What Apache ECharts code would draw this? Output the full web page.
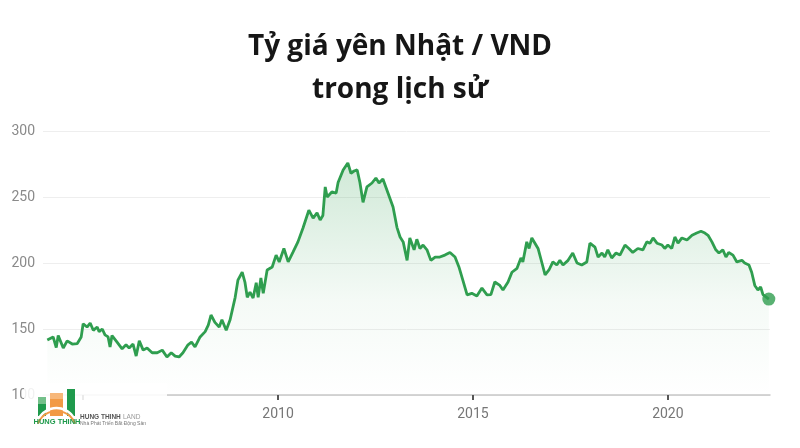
<!DOCTYPE html>
<html>
<head>
<meta charset="utf-8">
<script src="https://cdn.jsdelivr.net/npm/echarts@6/dist/echarts.min.js"></script>
<style>
html,body{margin:0;padding:0;background:#fff;}
#chart{width:800px;height:448px;}
</style>
</head>
<body>
<div id="chart"></div>
<script>
// Time (decimal years) and JPY→VND rate (VND per 1 yen)
const years = [
2004.08,2004.23,2004.31,2004.36,2004.49,2004.59,2004.72,2004.85,2004.95,2005.00,
2005.10,2005.18,2005.26,2005.36,2005.41,2005.49,2005.56,2005.64,2005.69,2005.74,
2005.87,2006.00,2006.10,2006.18,2006.28,2006.36,2006.44,2006.54,2006.64,2006.77,
2006.90,2007.03,2007.15,2007.26,2007.36,2007.46,2007.56,2007.69,2007.78,2007.87,
2008.00,2008.13,2008.21,2008.28,2008.38,2008.49,2008.56,2008.67,2008.77,2008.90,
2008.97,2009.08,2009.15,2009.21,2009.28,2009.36,2009.44,2009.49,2009.56,2009.62,
2009.72,2009.85,2009.95,2010.03,2010.15,2010.26,2010.38,2010.51,2010.64,2010.79,
2010.90,2011.00,2011.08,2011.15,2011.21,2011.26,2011.38,2011.49,2011.54,2011.67,
2011.79,2011.87,2011.95,2012.03,2012.10,2012.18,2012.28,2012.41,2012.51,2012.59,
2012.69,2012.82,2012.95,2013.05,2013.13,2013.21,2013.31,2013.38,2013.49,2013.56,
2013.64,2013.72,2013.82,2013.92,2014.03,2014.15,2014.28,2014.41,2014.54,2014.64,
2014.74,2014.85,2014.97,2015.10,2015.23,2015.36,2015.46,2015.56,2015.69,2015.77,
2015.90,2016.00,2016.13,2016.23,2016.28,2016.38,2016.44,2016.51,2016.59,2016.67,
2016.77,2016.85,2016.95,2017.05,2017.15,2017.23,2017.31,2017.44,2017.56,2017.67,
2017.79,2017.92,2018.00,2018.13,2018.21,2018.31,2018.38,2018.46,2018.56,2018.67,
2018.77,2018.90,2019.00,2019.10,2019.23,2019.36,2019.46,2019.54,2019.62,2019.72,
2019.85,2019.92,2020.00,2020.10,2020.18,2020.26,2020.36,2020.49,2020.62,2020.74,
2020.85,2020.95,2021.03,2021.13,2021.23,2021.31,2021.41,2021.49,2021.56,2021.67,
2021.77,2021.90,2021.97,2022.08,2022.15,2022.23,2022.31,2022.38,2022.44,2022.59
];
const rates = [
141.7,144,136,145,135.6,141,138.6,139,144,154,
151.5,154.5,149,151.5,148,150,145.5,144,136.4,145,
140,135,138,135.6,138.6,129.5,141,134,135.6,132,
132,134,128.8,132,129.5,128.8,132,138,140,136.5,
144,148,153,160.6,155,151.5,157,149,157,174,
187,193,185.6,174,178,173.5,185,174,188.6,177,
194.7,197,206,200.8,211,200.8,208,216,226.5,240,
234,238,232.6,236,257.6,250,253.8,253,261,270.5,
275.8,268,269.7,270.5,261,246,257.6,260.6,264.4,260.6,
263.6,253,242.4,227,219.7,216,202,219,210,218,
211,213.6,210,202,204.5,204.5,206,208,204.5,197,
187,175.8,177,175,181,175.8,176,185.6,183,179.5,
185.6,193,196,203.8,200.8,216,211,219,215,211,
200,191,194.7,200.8,198.5,202,198.5,202,207.6,200,
198.5,200.8,215,212,204.5,207.6,204.5,210,203.8,207.6,
206,213.6,211,208,211,210,216,215,219,215,
213.6,211,213.6,211,219.7,215,219,217.4,221,222.7,
224,222.7,221,216,210,207.6,210,204.5,208,206,
200.8,202,200,198.5,193,183,179.5,181.8,176,172.7
];
const yTicks = [100, 150, 200, 250, 300];
const xTickYears = [2005, 2010, 2015, 2020];
const xLabelYears = [2010, 2015, 2020];
const titleText = 'Tỷ giá yên Nhật / VND\ntrong lịch sử';

const lineData = years.map((y, i) => [y, rates[i]]);
const lastPoint = [[years[years.length - 1], rates[rates.length - 1]]];
const green = '#2f9e4f';

const chart = echarts.init(document.getElementById('chart'), null, {renderer: 'canvas'});
chart.setOption({
  animation: false,
  backgroundColor: '#ffffff',
  title: {
    text: titleText,
    left: 'center',
    top: 21,
    textStyle: {
      fontFamily: 'Open Sans',
      fontWeight: 'bold',
      fontSize: 28,
      lineHeight: 43,
      color: '#161616'
    }
  },
  grid: {left: 43, right: 30, top: 131, bottom: 53},
  xAxis: {
    type: 'value',
    min: 2003.97,
    max: 2022.62,
    splitLine: {show: false},
    axisLine: {show: true, lineStyle: {color: '#c8c8c8', width: 1.5}},
    axisTick: {show: true, customValues: xTickYears, length: 5, lineStyle: {color: '#555', width: 2}},
    axisLabel: {
      customValues: xLabelYears,
      color: '#777',
      fontFamily: 'Roboto',
      fontSize: 14,
      margin: 12,
      formatter: v => String(Math.round(v))
    }
  },
  yAxis: {
    type: 'value',
    min: 100,
    max: 300,
    interval: 50,
    axisLine: {show: false},
    axisTick: {show: false},
    axisLabel: {color: '#8a8a8a', fontFamily: 'Roboto', fontSize: 14, margin: 8,
      customValues: yTicks},
    splitLine: {lineStyle: {color: '#eeeeee', width: 1}}
  },
  series: [
    {
      type: 'line',
      data: lineData,
      symbol: 'none',
      smooth: false,
      lineStyle: {color: green, width: 2.8},
      areaStyle: {
        origin: 'start',
        color: new echarts.graphic.LinearGradient(0, 0, 0, 1, [
          {offset: 0, color: 'rgba(47,158,79,0.32)'},
          {offset: 0.6, color: 'rgba(47,158,79,0.07)'},
          {offset: 1, color: 'rgba(47,158,79,0.0)'}
        ])
      },
      z: 3
    },
    {
      type: 'scatter',
      data: lastPoint,
      symbol: 'circle',
      symbolSize: 13,
      itemStyle: {color: green},
      z: 4
    }
  ],
  graphic: [
    {type: 'rect', shape: {x: 24, y: 383, width: 143, height: 50}, style: {fill: 'rgba(255,255,255,0.88)'}, z: 100},
    // left bar
    {type: 'rect', shape: {x: 38, y: 397, width: 8, height: 7}, style: {fill: '#74c08a'}, z: 101},
    {type: 'rect', shape: {x: 38, y: 404, width: 8, height: 12}, style: {fill: '#1f9a4c'}, z: 101},
    // middle orange bar
    {type: 'rect', shape: {x: 50, y: 393, width: 13, height: 6}, style: {fill: '#f7b77a'}, z: 101},
    {type: 'rect', shape: {x: 50, y: 399, width: 13, height: 17}, style: {fill: '#f29a45'}, z: 101},
    // right green bar
    {type: 'rect', shape: {x: 67, y: 389, width: 8, height: 27}, style: {fill: '#1f9a4c'}, z: 101},
    // arch
    {type: 'arc', shape: {cx: 56.5, cy: 428, r: 20, startAngle: Math.PI * 1.15, endAngle: Math.PI * 1.85}, style: {stroke: '#ffffff', lineWidth: 2.5, fill: null}, z: 102},
    {type: 'arc', shape: {cx: 56.5, cy: 431, r: 20, startAngle: Math.PI * 1.12, endAngle: Math.PI * 1.88}, style: {stroke: '#f29a45', lineWidth: 2, fill: null}, z: 102},
    {type: 'text', style: {x: 57, y: 418, text: 'HUNG THINH', fill: '#1f9a4c', font: 'bold 7.5px "Liberation Sans"', textAlign: 'center'}, z: 103},
    {type: 'text', style: {x: 80, y: 414, text: 'HUNG THINH', fill: '#555', font: 'bold 6.5px "Liberation Sans"'}, z: 103},
    {type: 'text', style: {x: 123, y: 414, text: 'LAND', fill: '#999', font: '6.5px "Liberation Sans"'}, z: 103},
    {type: 'text', style: {x: 80, y: 421, text: 'Nhà Phát Triển Bất Động Sản', fill: '#777', font: '5px "Liberation Sans"'}, z: 103}
  ]
});
</script>
</body>
</html>
